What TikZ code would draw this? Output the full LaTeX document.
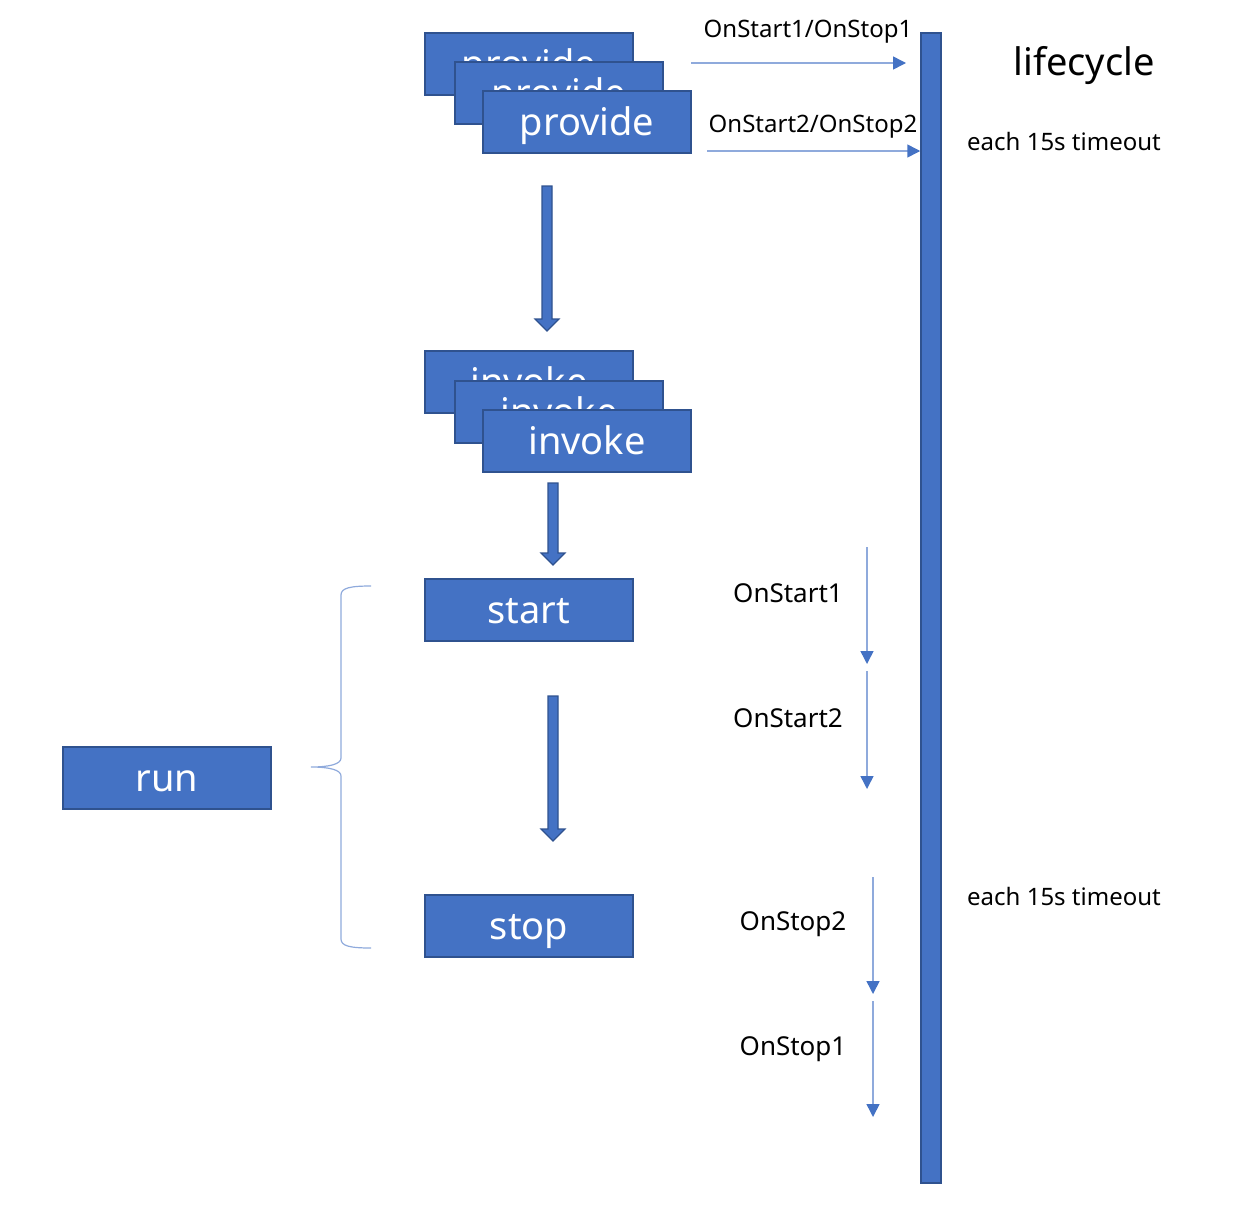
\documentclass[tikz,border=0pt]{standalone}
\usepackage{fontspec}
\setmainfont{Noto Sans}
\usetikzlibrary{arrows.meta}

\definecolor{boxblue}{HTML}{4472C4}
\definecolor{rimblue}{HTML}{2F528F}
\definecolor{lineblue}{HTML}{8FAADC}

\tikzset{
    phase/.style={draw=rimblue, fill=boxblue, line width=1.5pt, minimum width=208pt,
        minimum height=62pt, inner sep=0pt, text=white, text height=31pt, text depth=5pt,
        font=\fontsize{38}{40}\selectfont},
    hook/.style={font=\fontsize{24}{28}\selectfont, inner sep=0pt},
    order/.style={font=\fontsize{26}{30}\selectfont, inner sep=0pt},
    hookarrow/.style={draw=lineblue, line width=1.5pt, -{Triangle[width=13pt,length=13pt,color=boxblue]}},
    fatarrow/.style={draw=rimblue, fill=boxblue, line width=1.2pt}
}

% dicker Blockpfeil: x, y oben, y Spitze
\newcommand{\fatdown}[3]{
    \draw[fatarrow] (#1-5,#2) -- (#1+5,#2) -- (#1+5,#3-12) -- (#1+12,#3-12)
        -- (#1,#3) -- (#1-12,#3-12) -- (#1-5,#3-12) -- cycle;
}

\begin{document}
\begin{tikzpicture}[x=1pt, y=-1pt]
        \useasboundingbox (0,0) rectangle (1246,1210);

        % zeichne Lifecycle-Balken
        \node[draw=rimblue, fill=boxblue, line width=1.5pt, minimum width=20pt, minimum height=1150pt, inner sep=0pt] (lifebar) at (931,608) {};
        \node[font=\fontsize{38}{42}\selectfont, inner sep=0pt] (lifetitle) at (1084,66) {lifecycle};
        \node[hook] (timeout1) at (1064,141) {each 15s timeout};
        \node[hook] (timeout2) at (1064,896) {each 15s timeout};

        % zeichne provide-Stapel
        \node[phase] (provide1) at (529,64) {provide};
        \node[phase] (provide2) at (559,93) {provide};
        \node[phase] (provide3) at (587,122) {provide};

        % zeichne invoke-Stapel
        \node[phase] (invoke1) at (529,382) {invoke};
        \node[phase] (invoke2) at (559,412) {invoke};
        \node[phase] (invoke3) at (587,441) {invoke};

        % zeichne start, stop und run
        \node[phase] (start) at (529,610) {start};
        \node[phase] (stop) at (529,926) {stop};
        \node[phase] (run) at (167,778) {run};

        % zeichne Blockpfeile
        \fatdown{547}{186}{331}
        \fatdown{553}{483}{565}
        \fatdown{553}{696}{841}

        % zeichne Klammer
        \draw[lineblue, line width=1.2pt] (371,586) .. controls (350,586) and (341,588) .. (341,595)
            -- (341,758) .. controls (341,764) and (330,767) .. (311,767)
            .. controls (330,767) and (341,770) .. (341,776)
            -- (341,939) .. controls (341,946) and (350,948) .. (371,948);

        % zeichne Hooks zum Lifecycle
        \coordinate (reg1a) at (691,63);
        \coordinate (reg1b) at (906,63);
        \coordinate (reg2a) at (707,151);
        \draw[hookarrow] (reg1a) -- (reg1b);
        \draw[hookarrow] (reg2a) -- (lifebar.west |- reg2a);
        \node[hook] (reg1) at (808,32) {OnStart1/OnStop1};
        \node[hook] (reg2) at (813,127) {OnStart2/OnStop2};

        % zeichne Aufrufreihenfolge
        \coordinate (on1a) at (867,547);
        \coordinate (on1b) at (867,664);
        \coordinate (on2a) at (867,671);
        \coordinate (on2b) at (867,789);
        \coordinate (off2a) at (873,877);
        \coordinate (off2b) at (873,994);
        \coordinate (off1a) at (873,1001);
        \coordinate (off1b) at (873,1117);
        \draw[hookarrow] (on1a) -- (on1b);
        \draw[hookarrow] (on2a) -- (on2b);
        \draw[hookarrow] (off2a) -- (off2b);
        \draw[hookarrow] (off1a) -- (off1b);
        \node[order] (onstart1) at (788,593) {OnStart1};
        \node[order] (onstart2) at (788,718) {OnStart2};
        \node[order] (onstop2) at (793,924) {OnStop2};
        \node[order] (onstop1) at (793,1049) {OnStop1};
    \end{tikzpicture}
\end{document}
